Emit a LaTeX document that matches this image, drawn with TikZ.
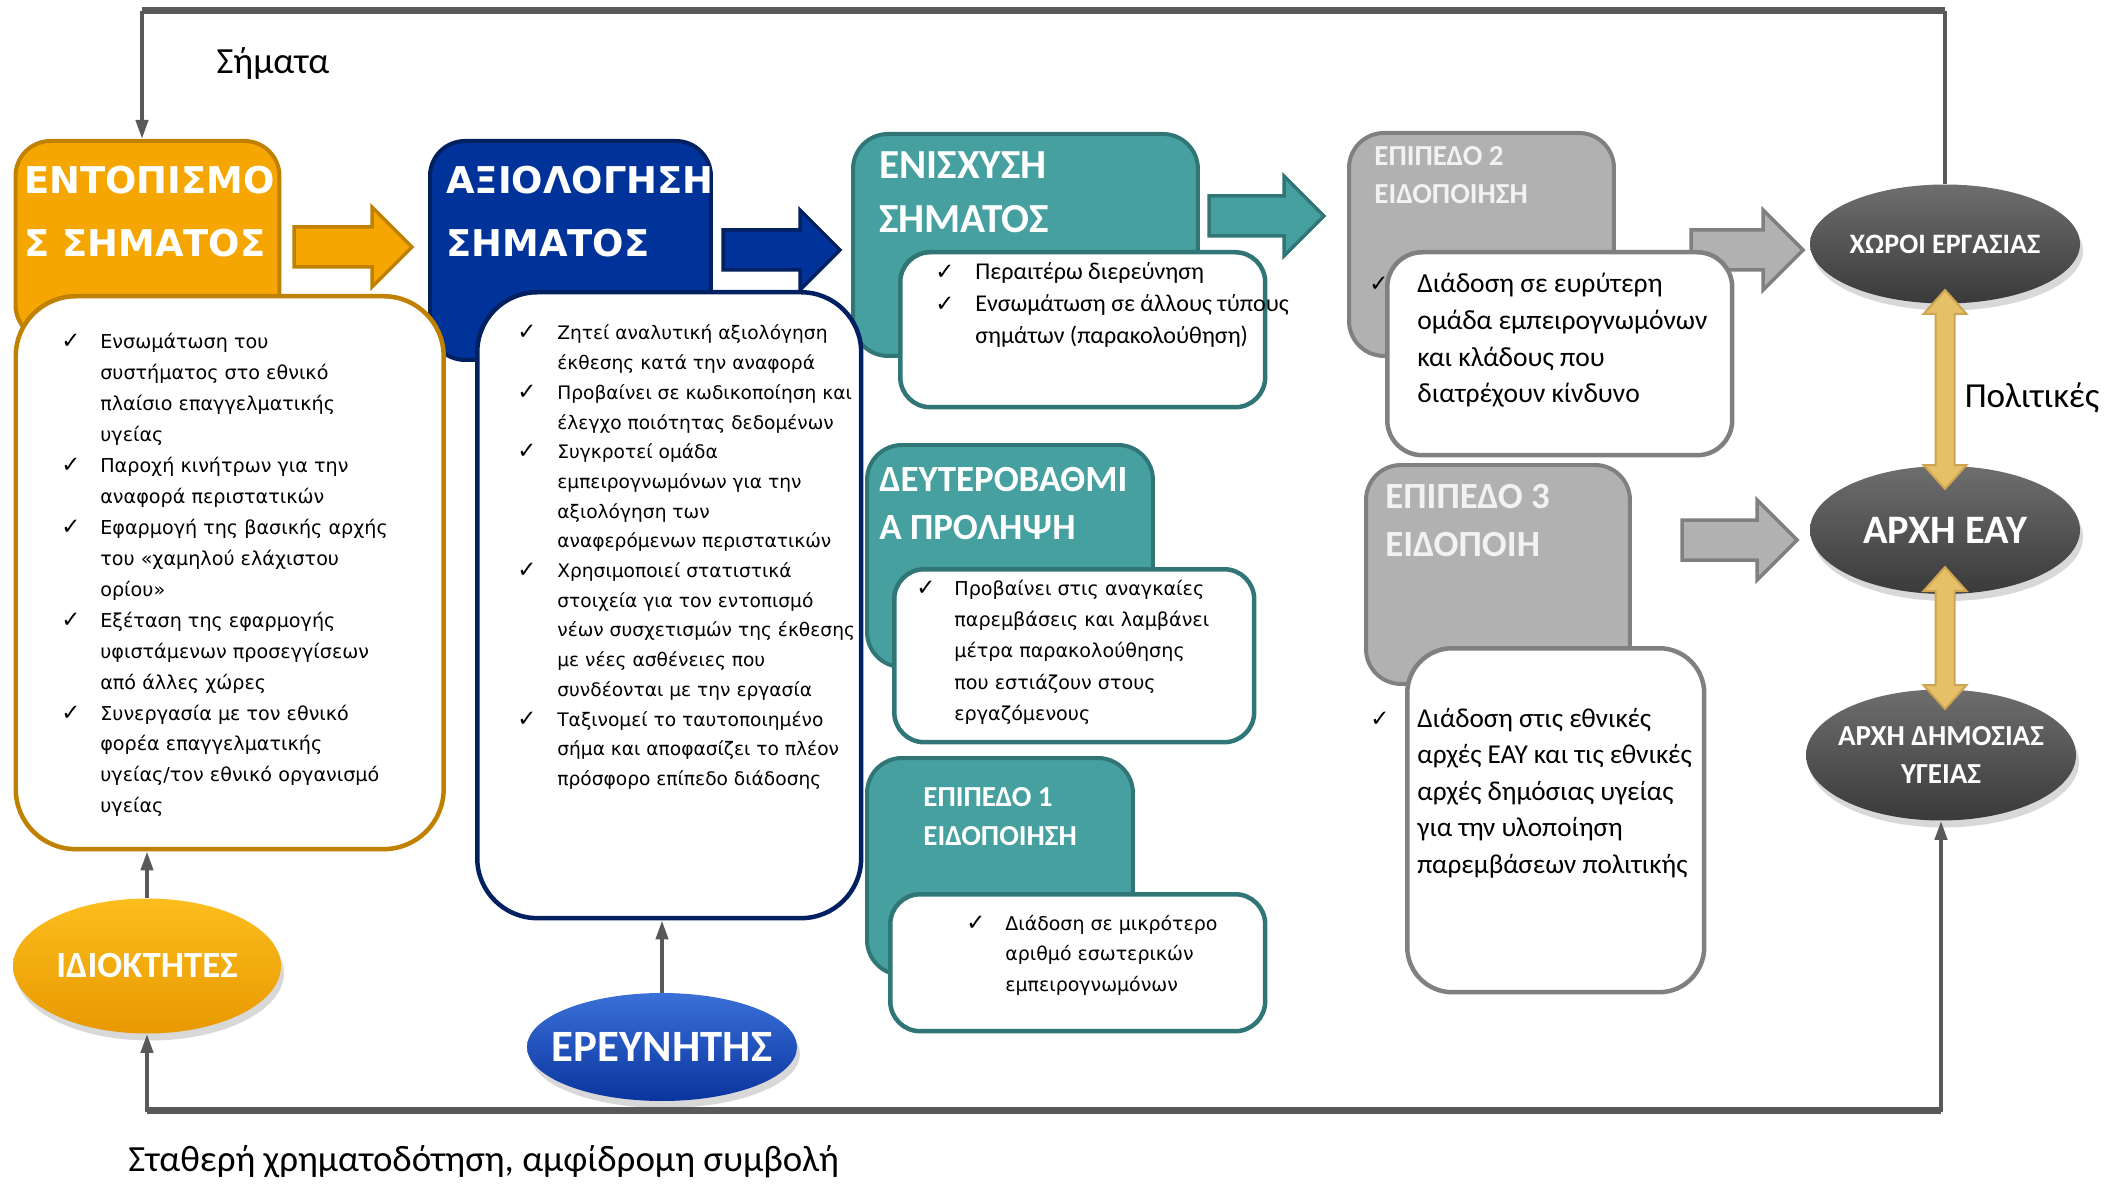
\documentclass[tikz,border=0pt]{standalone}
\usepackage{fontspec}
\setmainfont{Carlito}
\newfontfamily\verdfont{DejaVu Sans}
\usetikzlibrary{arrows.meta, positioning, shapes.geometric, shadows}

\definecolor{detorange}{RGB}{245,166,0}
\definecolor{detorangedk}{RGB}{192,128,0}
\definecolor{evalblue}{RGB}{0,51,153}
\definecolor{evalbluedk}{RGB}{0,32,96}
\definecolor{sigteal}{RGB}{70,160,160}
\definecolor{sigtealdk}{RGB}{49,118,118}
\definecolor{lvlgray}{RGB}{177,177,177}
\definecolor{lvlgraydk}{RGB}{128,128,128}
\definecolor{lvltext}{RGB}{242,242,242}
\definecolor{polgold}{RGB}{230,192,105}
\definecolor{polgolddk}{RGB}{205,165,80}
\definecolor{linkgray}{RGB}{89,89,89}

\newcommand{\ck}{{\verdfont\fontsize{13}{13}\selectfont ✓}}

\tikzset{
  hdr/.style={anchor=north west, draw, line width=0.08cm, rounded corners=0.7cm, inner sep=0pt},
  lst/.style={anchor=north west, draw, fill=white, line width=0.09cm, inner sep=0pt},
  htxt/.style={anchor=west, inner sep=0pt, align=left, text=white},
  ltxt/.style={anchor=base west, inner sep=0pt},
  role/.style={ellipse, inner sep=0pt,
    drop shadow={opacity=0.3, shadow xshift=0.06cm, shadow yshift=-0.14cm}},
  rolelbl/.style={text=white, align=center, inner sep=0pt},
  conn/.style={draw=linkgray, line width=0.08cm},
  tip/.style={-{Triangle[length=0.38cm, width=0.24cm]}},
  lbl/.style={inner sep=0pt, font=\fontsize{21}{25}\selectfont}
}

\begin{document}
\begin{tikzpicture}[x=0.02cm, y=-0.02cm]
\useasboundingbox (0,0) rectangle (2118,1185);
\fill[white] (0,0) rectangle (2118,1185);

% block arrows between the stages
\foreach \xa/\xb/\cy/\fc/\dc in {294/412/247/detorange/detorangedk, 723/840/250/evalblue/evalbluedk,
    1209/1324/216/sigteal/sigtealdk, 1691/1803/250/lvlgray/lvlgraydk, 1682/1797/540/lvlgray/lvlgraydk}{
  \filldraw[fill=\fc, draw=\dc, line width=0.07cm]
    (\xa,\cy-20) -- (\xb-40,\cy-20) -- (\xb-40,\cy-40) -- (\xb,\cy) -- (\xb-40,\cy+40)
    -- (\xb-40,\cy+20) -- (\xa,\cy+20) -- cycle;
}

% stage headers
\node[hdr, fill=detorange, draw=detorangedk, minimum width=5.28cm, minimum height=3.98cm] (enthdr) at (13.5,139) {};
\node[hdr, fill=evalblue, draw=evalbluedk, minimum width=5.62cm, minimum height=4.38cm] (evhdr) at (428,139) {};
\node[hdr, fill=sigteal, draw=sigtealdk, minimum width=6.9cm, minimum height=4.44cm] (enishdr) at (851,132) {};
\node[hdr, fill=sigteal, draw=sigtealdk, minimum width=5.72cm, minimum height=4.44cm] (prevhdr) at (865,443) {};
\node[hdr, fill=sigteal, draw=sigtealdk, minimum width=5.32cm, minimum height=4.34cm] (lvlahdr) at (865,756) {};
\node[hdr, fill=lvlgray, draw=lvlgraydk, minimum width=5.3cm, minimum height=4.46cm] (lvlbhdr) at (1347,131) {};
\node[hdr, fill=lvlgray, draw=lvlgraydk, minimum width=5.28cm, minimum height=4.38cm] (lvlchdr) at (1364,463) {};

\node[htxt, font=\verdfont\bfseries\fontsize{21}{36}\selectfont] (enttitle) at (24,211.5) {ΕΝΤΟΠΙΣΜΟ\\Σ ΣΗΜΑΤΟΣ};
\node[htxt, font=\verdfont\bfseries\fontsize{21}{36}\selectfont] (evtitle) at (446,211.5) {ΑΞΙΟΛΟΓΗΣΗ\\ΣΗΜΑΤΟΣ};
\node[htxt, font=\bfseries\fontsize{23.5}{31}\selectfont] (enistitle) at (879,192.5) {ΕΝΙΣΧΥΣΗ\\ΣΗΜΑΤΟΣ};
\node[htxt, font=\bfseries\fontsize{21}{26.8}\selectfont] (prevtitle) at (879,503.5) {ΔΕΥΤΕΡΟΒΑΘΜΙ\\Α ΠΡΟΛΗΨΗ};
\node[htxt, font=\bfseries\fontsize{16.5}{22}\selectfont] (lvlatitle) at (923,816.5) {ΕΠΙΠΕΔΟ 1\\ΕΙΔΟΠΟΙΗΣΗ};
\node[htxt, text=lvltext, font=\bfseries\fontsize{16.5}{22}\selectfont] (lvlbtitle) at (1374,175) {ΕΠΙΠΕΔΟ 2\\ΕΙΔΟΠΟΙΗΣΗ};
\node[htxt, text=lvltext, font=\bfseries\fontsize{21}{27}\selectfont] (lvlctitle) at (1385,520.5) {ΕΠΙΠΕΔΟ 3\\ΕΙΔΟΠΟΙΗ};

\node[inner sep=0pt] (lvlbchk) at (1379,284) {\ck};

% content boxes
\node[lst, draw=detorangedk, rounded corners=1.2cm, minimum width=8.56cm, minimum height=11.06cm] (entlist) at (13.5,294) {};
\node[lst, draw=evalbluedk, rounded corners=1.2cm, minimum width=7.68cm, minimum height=12.52cm] (evlist) at (475,290) {};
\node[lst, draw=sigtealdk, rounded corners=0.6cm, minimum width=7.3cm, minimum height=3.1cm] (enislist) at (898,250) {};
\node[lst, draw=sigtealdk, rounded corners=0.6cm, minimum width=7.2cm, minimum height=3.46cm] (prevlist) at (892,567) {};
\node[lst, draw=sigtealdk, rounded corners=0.6cm, minimum width=7.5cm, minimum height=2.74cm] (lvlalist) at (888,892) {};
\node[lst, draw=lvlgraydk, rounded corners=0.7cm, minimum width=6.9cm, minimum height=4.06cm] (lvlblist) at (1385,250) {};
\node[lst, draw=lvlgraydk, rounded corners=0.9cm, minimum width=5.94cm, minimum height=6.88cm] (lvlclist) at (1405,646) {};

\node[ltxt, font=\verdfont\fontsize{10.9}{17.6}\selectfont] (enttxt) at (61,349) {%
\begin{tabular}[t]{@{}p{0.78cm}@{}l@{}}
\ck & Ενσωμάτωση του\\
    & συστήματος στο εθνικό\\
    & πλαίσιο επαγγελματικής\\
    & υγείας\\
\ck & Παροχή κινήτρων για την\\
    & αναφορά περιστατικών\\
\ck & Εφαρμογή της βασικής αρχής\\
    & του «χαμηλού ελάχιστου\\
    & ορίου»\\
\ck & Εξέταση της εφαρμογής\\
    & υφιστάμενων προσεγγίσεων\\
    & από άλλες χώρες\\
\ck & Συνεργασία με τον εθνικό\\
    & φορέα επαγγελματικής\\
    & υγείας/τον εθνικό οργανισμό\\
    & υγείας
\end{tabular}};

\node[ltxt, font=\verdfont\fontsize{10.6}{16.9}\selectfont] (evtxt) at (517,340) {%
\begin{tabular}[t]{@{}p{0.8cm}@{}l@{}}
\ck & Ζητεί αναλυτική αξιολόγηση\\
    & έκθεσης κατά την αναφορά\\
\ck & Προβαίνει σε κωδικοποίηση και\\
    & έλεγχο ποιότητας δεδομένων\\
\ck & Συγκροτεί ομάδα\\
    & εμπειρογνωμόνων για την\\
    & αξιολόγηση των\\
    & αναφερόμενων περιστατικών\\
\ck & Χρησιμοποιεί στατιστικά\\
    & στοιχεία για τον εντοπισμό\\
    & νέων συσχετισμών της έκθεσης\\
    & με νέες ασθένειες που\\
    & συνδέονται με την εργασία\\
\ck & Ταξινομεί το ταυτοποιημένο\\
    & σήμα και αποφασίζει το πλέον\\
    & πρόσφορο επίπεδο διάδοσης
\end{tabular}};

\node[ltxt, font=\fontsize{13.7}{18}\selectfont] (enistxt) at (935,280) {%
\begin{tabular}[t]{@{}p{0.8cm}@{}l@{}}
\ck & Περαιτέρω διερεύνηση\\
\ck & Ενσωμάτωση σε άλλους τύπους\\
    & σημάτων (παρακολούθηση)
\end{tabular}};

\node[ltxt, font=\verdfont\fontsize{10.9}{17.9}\selectfont] (prevtxt) at (916,595) {%
\begin{tabular}[t]{@{}p{0.76cm}@{}l@{}}
\ck & Προβαίνει στις αναγκαίες\\
    & παρεμβάσεις και λαμβάνει\\
    & μέτρα παρακολούθησης\\
    & που εστιάζουν στους\\
    & εργαζόμενους
\end{tabular}};

\node[ltxt, font=\verdfont\fontsize{10.8}{17.6}\selectfont] (lvlatxt) at (966,930) {%
\begin{tabular}[t]{@{}p{0.78cm}@{}l@{}}
\ck & Διάδοση σε μικρότερο\\
    & αριθμό εσωτερικών\\
    & εμπειρογνωμόνων
\end{tabular}};

\node[ltxt, font=\fontsize{15.7}{20.8}\selectfont] (lvlbtxt) at (1417,293) {%
\begin{tabular}[t]{@{}l@{}}
Διάδοση σε ευρύτερη\\
ομάδα εμπειρογνωμόνων\\
και κλάδους που\\
διατρέχουν κίνδυνο
\end{tabular}};

\node[inner sep=0pt] (lvlcchk) at (1380,719) {\ck};
\node[ltxt, font=\fontsize{15.5}{20.8}\selectfont] (lvlctxt) at (1417,727) {%
\begin{tabular}[t]{@{}l@{}}
Διάδοση στις εθνικές\\
αρχές ΕΑΥ και τις εθνικές\\
αρχές δημόσιας υγείας\\
για την υλοποίηση\\
παρεμβάσεων πολιτικής
\end{tabular}};

% actors
\node[role, top color={rgb,255:red,252;green,190;blue,30}, bottom color={rgb,255:red,232;green,152;blue,0},
  minimum width=5.36cm, minimum height=2.7cm,
  label={[rolelbl, font=\bfseries\fontsize{21}{25}\selectfont]center:ΙΔΙΟΚΤΗΤΕΣ}] (owners) at (147,966) {};
\node[role, top color={rgb,255:red,58;green,112;blue,216}, bottom color={rgb,255:red,10;green,52;blue,158},
  minimum width=5.4cm, minimum height=2.16cm,
  label={[rolelbl, font=\bfseries\fontsize{25.5}{30}\selectfont]center:ΕΡΕΥΝΗΤΗΣ}] (research) at (662,1047) {};
\node[role, top color={rgb,255:red,110;green,110;blue,110}, bottom color={rgb,255:red,58;green,58;blue,58},
  minimum width=5.4cm, minimum height=2.38cm,
  label={[rolelbl, font=\bfseries\fontsize{16}{20}\selectfont]center:ΧΩΡΟΙ ΕΡΓΑΣΙΑΣ}] (work) at (1945,244) {};
\node[role, top color={rgb,255:red,110;green,110;blue,110}, bottom color={rgb,255:red,58;green,58;blue,58},
  minimum width=5.4cm, minimum height=2.56cm,
  label={[rolelbl, font=\bfseries\fontsize{23}{28}\selectfont]center:ΑΡΧΗ ΕΑΥ}] (osh) at (1945,530) {};
\node[role, top color={rgb,255:red,110;green,110;blue,110}, bottom color={rgb,255:red,58;green,58;blue,58},
  minimum width=5.4cm, minimum height=2.62cm,
  label={[rolelbl, font=\bfseries\fontsize{16.5}{22}\selectfont]center:ΑΡΧΗ ΔΗΜΟΣΙΑΣ\\ΥΓΕΙΑΣ}] (pubhealth) at (1941,755) {};

% policy arrows
\foreach \ya/\yb in {290/489, 567/709}{
  \filldraw[fill=polgold, draw=polgolddk, line width=0.04cm]
    (1935.5,\ya+24) -- (1923.5,\ya+24) -- (1945,\ya) -- (1966.5,\ya+24) -- (1954.5,\ya+24)
    -- (1954.5,\yb-24) -- (1966.5,\yb-24) -- (1945,\yb) -- (1923.5,\yb-24) -- (1935.5,\yb-24) -- cycle;
}

% feedback loops
\coordinate (tl) at (142,11);
\coordinate (tr) at (1945,11);
\coordinate (bl) at (147,1110);
\coordinate (br) at (1941,1110);
\draw[conn] (work.north) -- (tr);
\draw[conn, tip] (tl) -- (tl |- enthdr.north);
\draw[linkgray, line width=0.14cm] (tl) -- (tr);
\draw[conn, {Triangle[length=0.38cm, width=0.24cm]}-{Triangle[length=0.38cm, width=0.24cm]}]
  (owners.south) -- (bl) -- (br) -- (pubhealth.south);
\draw[linkgray, line width=0.14cm] (bl) -- (br);
\draw[conn, tip] (owners.north) -- (owners.north |- entlist.south);
\draw[conn, tip] (research.north) -- (research.north |- evlist.south);

\node[lbl] (signals) at (273,63) {Σήματα};
\node[lbl, font=\fontsize{20}{24}\selectfont] (policies) at (2032,398) {Πολιτικές};
\node[lbl, anchor=west] (funding) at (128,1162) {Σταθερή χρηματοδότηση, αμφίδρομη συμβολή};
\end{tikzpicture}
\end{document}
